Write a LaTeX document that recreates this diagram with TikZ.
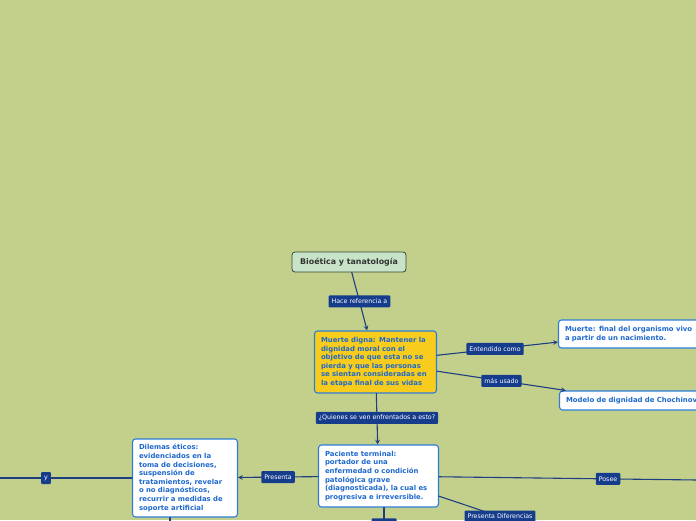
\documentclass[tikz,border=0pt]{standalone}
\usepackage{fontspec}
\setmainfont{DejaVu Sans}
\definecolor{fondo}{RGB}{195,208,139}
\definecolor{linea}{RGB}{30,62,130}
\definecolor{etiq}{RGB}{22,60,140}
\definecolor{borde}{RGB}{45,125,215}
\definecolor{texto}{RGB}{30,105,205}
\definecolor{amarillo}{RGB}{248,204,28}
\definecolor{verdeclaro}{RGB}{200,228,200}
\definecolor{bordeverde}{RGB}{55,70,55}

\begin{document}
\begin{tikzpicture}[x=1pt,y=-1pt,line cap=round,line join=round,>=stealth,
  idea/.style={draw=borde,line width=1.1pt,rounded corners=3pt,fill=white,text=texto,align=left,inner xsep=6.5pt,inner ysep=3pt,font=\fontsize{6.9}{8.6}\selectfont\bfseries},
  raiz/.style={draw=bordeverde,line width=0.8pt,rounded corners=3pt,fill=verdeclaro,text=black!80,font=\fontsize{7.9}{9}\selectfont\bfseries,minimum width=114pt,minimum height=20pt,inner sep=0pt},
  etiqueta/.style={fill=etiq,text=white,font=\fontsize{6.3}{7}\selectfont,inner xsep=3pt,inner ysep=0pt,minimum height=12pt,rounded corners=1pt},
  enlace/.style={draw=linea,line width=1.1pt}]
  \path[use as bounding box,fill=fondo] (0,0) rectangle (696,520);
  \clip (0,0) rectangle (696,520);
  \node[raiz] (raiz) at (349,262) {Bioética y tanatología};
  \node[idea,fill=amarillo,text width=109pt,minimum height=62pt] (digna) at (375.5,362) {Muerte digna: Mantener la\\dignidad moral con el\\objetivo de que esta no se\\pierda y que las personas\\se sientan consideradas en\\la etapa final de sus vidas};
  \node[idea,text width=134pt,minimum height=28pt] (muerte) at (632,334) {Muerte: final del organismo vivo\\a partir de un nacimiento.};
  \node[idea,text width=134pt,minimum height=19pt] (modelo) at (633,400.5) {Modelo de dignidad de Chochinov};
  \node[idea,text width=107pt,minimum height=62pt] (paciente) at (378.5,476) {Paciente terminal:\\portador de una\\enfermedad o condición\\patológica grave\\(diagnosticada), la cual es\\progresiva e irreversible.};
  \node[idea,text width=92pt,minimum height=78pt] (dilemas) at (185,478) {Dilemas éticos:\\evidenciados en la\\toma de decisiones,\\suspensión de\\tratamientos, revelar\\o no diagnósticos,\\recurrir a medidas de\\soporte artificial};
  \coordinate (cy) at (-40,478);
  \coordinate (cposee) at (777,481);
  \coordinate (cdif) at (561,537);
  \coordinate (cabajo) at (384,560);
  \coordinate (cabajodos) at (170,560);
  \draw[enlace,->] (raiz) -- node[etiqueta] (lref) {Hace referencia a} (digna);
  \draw[enlace,->] (digna) -- node[etiqueta,pos=.48] (lent) {Entendido como} (muerte);
  \draw[enlace,->] (digna) -- node[etiqueta] (lusado) {más usado} (modelo);
  \draw[enlace,->] (digna) -- node[etiqueta,pos=.48] (lquien) {¿Quienes se ven enfrentados a esto?} (paciente);
  \draw[enlace,->] (paciente) -- node[etiqueta] (lpres) {Presenta} (dilemas);
  \draw[enlace] (dilemas) -- node[etiqueta] (ly) {y} (cy);
  \draw[enlace] (paciente) -- node[etiqueta] (lposee) {Posee} (cposee);
  \draw[enlace] (paciente) -- node[etiqueta] (ldif) {Presenta Diferencias} (cdif);
  \draw[enlace] (cabajo |- paciente.south) -- node[etiqueta,pos=.32,minimum width=25pt] (labajo) {} (cabajo);
  \draw[enlace] (cabajodos |- dilemas.south) -- (cabajodos);
\end{tikzpicture}
\end{document}
